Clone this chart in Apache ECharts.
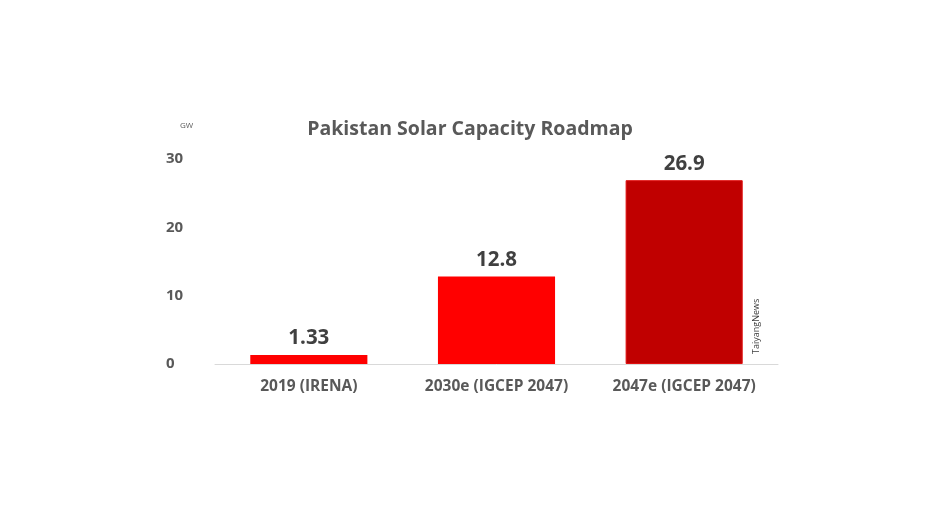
<!DOCTYPE html>
<html>
<head>
<meta charset="utf-8">
<script src="https://cdn.jsdelivr.net/npm/echarts@6/dist/echarts.min.js"></script>
<style>
html,body{margin:0;padding:0;background:#fff;}
#chart{width:944px;height:531px;}
</style>
</head>
<body>
<div id="chart"></div>
<script>
const categories = ['2019 (IRENA)', '2030e (IGCEP 2047)', '2047e (IGCEP 2047)'];
const values = [1.33, 12.8, 26.9];
const valueLabels = ['1.33', '12.8', '26.9'];
const barColors = ['#FF0000', '#FF0000', '#C00000'];
const yTicks = [0, 10, 20, 30];

const textColor = '#595959';
const font = '"Open Sans", sans-serif';

const chart = echarts.init(document.getElementById('chart'));
chart.setOption({
  backgroundColor: '#ffffff',
  animation: false,
  title: {
    text: 'Pakistan Solar Capacity Roadmap',
    left: 465, top: 114,
    textAlign: 'center',
    textStyle: {fontFamily: font, fontWeight: 'bold', fontSize: 19.5, color: textColor}
  },
  grid: {left: 215, right: 166, top: 159, bottom: 167},
  xAxis: {
    type: 'category',
    data: categories,
    axisLine: {lineStyle: {color: '#D9D9D9', width: 1}},
    axisTick: {show: false},
    axisLabel: {fontFamily: font, fontWeight: 'bold', fontSize: 15.5, color: textColor, margin: 15}
  },
  yAxis: {
    type: 'value',
    min: yTicks[0], max: yTicks[yTicks.length - 1], interval: 10,
    splitLine: {show: false},
    axisLine: {show: false},
    axisTick: {show: false},
    axisLabel: {fontFamily: font, fontWeight: 'bold', fontSize: 15, color: textColor, margin: 16, align: 'left', padding: [0, 0, 0, -33]}
  },
  series: [{
    type: 'bar',
    barCategoryGap: '37.6%',
    data: values.map((v, i) => ({
      value: v,
      itemStyle: {color: barColors[i], borderColor: i === 2 ? '#E01010' : barColors[i], borderWidth: i === 2 ? 1 : 0}
    })),
    label: {
      show: true, position: 'top', distance: 6,
      formatter: p => valueLabels[p.dataIndex],
      fontFamily: font, fontWeight: 'bold', fontSize: 20.5, color: '#404040'
    }
  }],
  graphic: [
    {type: 'text', left: 180, top: 122, style: {text: 'GW', font: '8px ' + font, fill: '#595959'}},
    {type: 'text', x: 752, y: 354, rotation: Math.PI / 2, style: {text: 'TaiyangNews', font: '9px ' + font, fill: '#404040'}}
  ]
});
</script>
</body>
</html>
